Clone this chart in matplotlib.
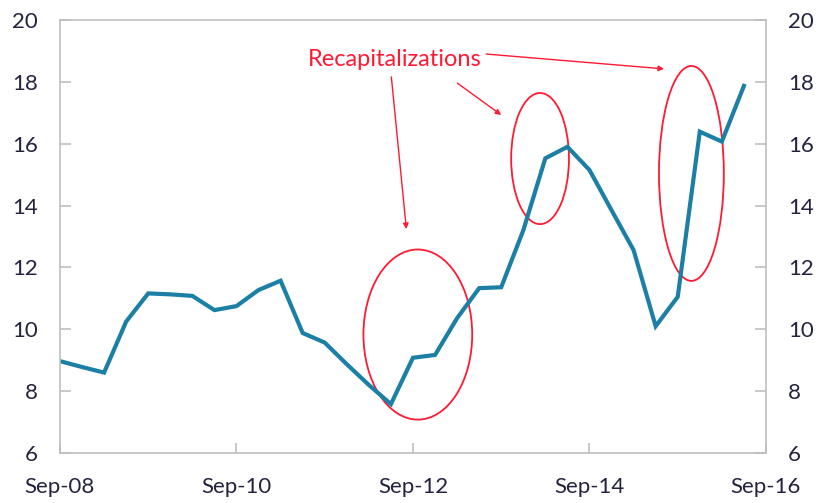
import matplotlib

matplotlib.use("Agg")
import matplotlib.pyplot as plt
from matplotlib.patches import Ellipse

# quarterly series, Sep-08 (index 0) .. Jun-16 (index 31)
quarter_idx = list(range(32))
values = [
    8.97, 8.78, 8.60, 10.25, 11.16, 11.13, 11.08, 10.62,
    10.75, 11.27, 11.57, 9.88, 9.57, 8.87, 8.20, 7.58,
    9.08, 9.17, 10.36, 11.33, 11.36, 13.20, 15.53, 15.90,
    15.15, 13.85, 12.56, 10.10, 11.05, 16.39, 16.07, 17.87,
]
xtick_pos = [0, 8, 16, 24, 32]
xtick_labels = ["Sep-08", "Sep-10", "Sep-12", "Sep-14", "Sep-16"]
yticks = [6, 8, 10, 12, 14, 16, 18, 20]

# annotation: label, arrows (start -> end) and ellipses (centre, width, height)
note_text = "Recapitalizations"
note_pos = (15.16, 18.71)
arrows = [
    ((15.02, 18.16), (15.70, 13.24)),
    ((18.01, 17.96), (20.00, 16.93)),
    ((19.32, 18.90), (27.38, 18.42)),
]
ellipses = [
    ((16.22, 9.83), 4.93, 5.50),
    ((21.76, 15.52), 2.62, 4.24),
    ((28.62, 15.04), 2.94, 6.95),
]

LINE = "#1b7fa6"
RED = "#ff1a33"
GREY = "#bfbfbf"
LABEL = "#23233f"

plt.rcParams["font.family"] = ["Lato", "DejaVu Sans"]

fig = plt.figure(figsize=(8.16, 5.03), dpi=100)
ax = fig.add_axes([0.0735, 0.0994, 0.8652, 0.8608])

ax.plot(quarter_idx, values, color=LINE, lw=3.0, solid_joinstyle="miter")

ax.set_xlim(0, 32)
ax.set_ylim(6, 20)
ax.set_xticks(xtick_pos)
ax.set_xticklabels(xtick_labels)
ax.set_yticks(yticks)

for s in ax.spines.values():
    s.set_color(GREY)
    s.set_linewidth(1.2)
ax.tick_params(axis="y", direction="in", length=8, width=1.2, color=GREY,
               left=True, right=True, labelleft=True, labelright=True,
               labelsize=16, labelcolor=LABEL, pad=16)
ax.tick_params(axis="x", direction="in", length=7, width=1.2, color=GREY,
               labelsize=16, labelcolor=LABEL, pad=17)

ax.text(*note_pos, note_text, color=RED, fontsize=17, ha="center", va="center")
for start, end in arrows:
    ax.annotate("", xy=end, xytext=start,
                arrowprops=dict(arrowstyle="-|>", color=RED, lw=1.0,
                                mutation_scale=8, shrinkA=0, shrinkB=0))
for centre, w, h in ellipses:
    ax.add_patch(Ellipse(centre, w, h, fill=False, edgecolor=RED, lw=1.3))

fig.savefig("out.png", dpi=100)
